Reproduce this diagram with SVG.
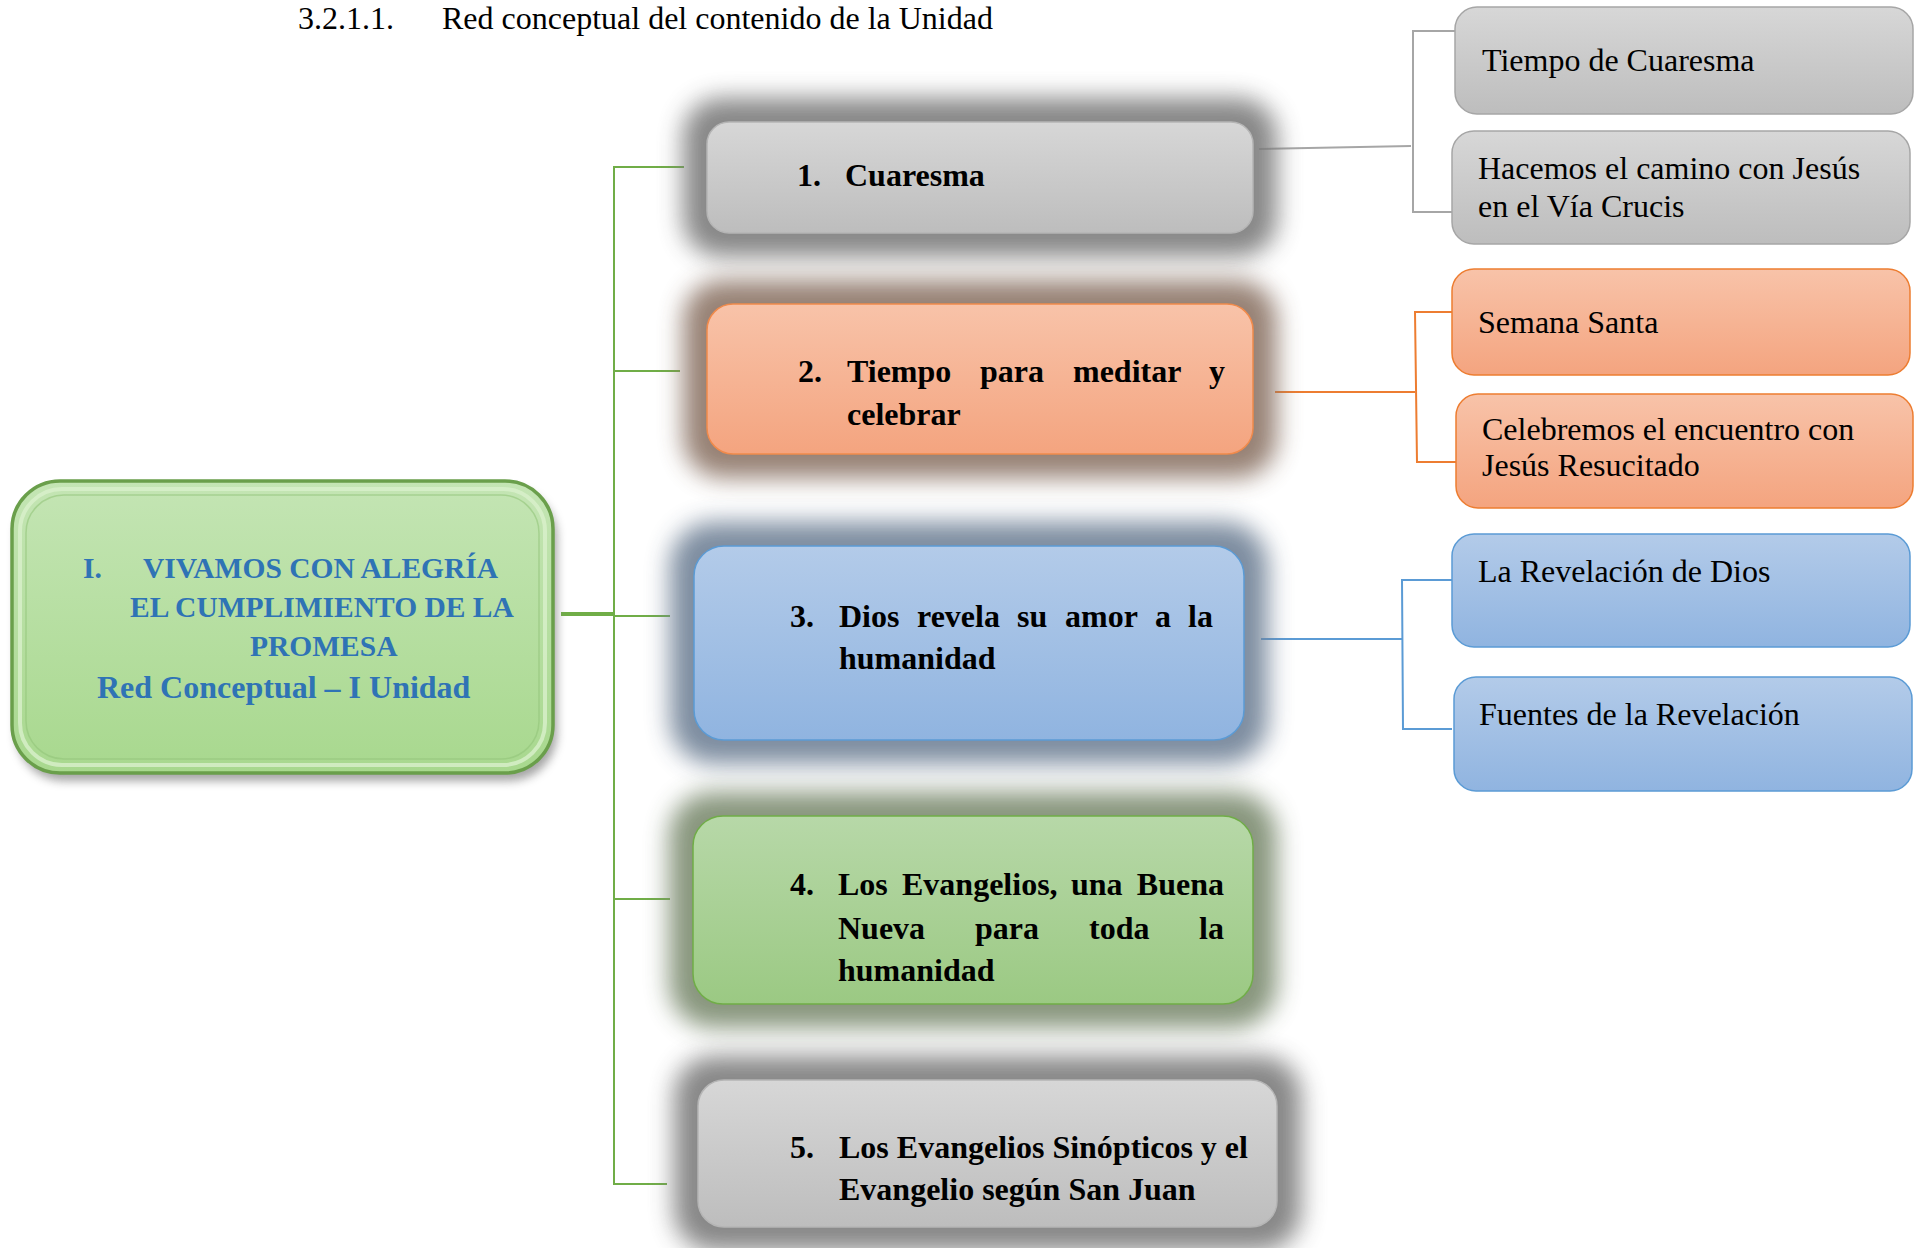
<svg xmlns="http://www.w3.org/2000/svg" width="1920" height="1248" viewBox="0 0 1920 1248">
<defs>
<linearGradient id="gGray" x1="0" y1="0" x2="0" y2="1"><stop offset="0" stop-color="#d7d7d7"/><stop offset="1" stop-color="#bdbdbd"/></linearGradient>
<linearGradient id="gOrange" x1="0" y1="0" x2="0" y2="1"><stop offset="0" stop-color="#f8c3a9"/><stop offset="1" stop-color="#f4a47f"/></linearGradient>
<linearGradient id="gBlue" x1="0" y1="0" x2="0" y2="1"><stop offset="0" stop-color="#b3cbe9"/><stop offset="1" stop-color="#90b4e0"/></linearGradient>
<linearGradient id="gGreen" x1="0" y1="0" x2="0" y2="1"><stop offset="0" stop-color="#b7d8a8"/><stop offset="1" stop-color="#9bc983"/></linearGradient>
<linearGradient id="gMain" x1="0" y1="0" x2="0" y2="1"><stop offset="0" stop-color="#c4e5b4"/><stop offset="1" stop-color="#a8d88e"/></linearGradient>
<filter id="glow" x="-0.3" y="-0.6" width="1.6" height="2.2"><feGaussianBlur stdDeviation="12"/></filter>
<filter id="shadow" x="-0.1" y="-0.1" width="1.2" height="1.3"><feGaussianBlur stdDeviation="5"/></filter>
</defs>
<style>
.t{font-family:"Liberation Serif","Times New Roman",serif}
.b{font-weight:bold;font-size:32px;fill:#000}
.r{font-size:32px;fill:#000}
.m{font-weight:bold;fill:#2f73b5}
.ln{fill:none;stroke-width:2}
.gn{stroke:#70ad47}
.gy{stroke:#a6a6a6}
.or{stroke:#ed7d31}
.bl{stroke:#5b9bd5}
.glow{filter:url(#glow);opacity:0.9}
</style>

<text class="t" x="298" y="29" font-size="32">3.2.1.1.</text>
<text class="t" x="442" y="29" font-size="32">Red conceptual del contenido de la Unidad</text>

<g id="connectors">
<line class="gn" x1="561" y1="614" x2="615" y2="614" style="stroke-width:4"/>
<line class="ln gn" x1="614" y1="166" x2="614" y2="1185"/>
<line class="ln gn" x1="614" y1="167" x2="684" y2="167"/>
<line class="ln gn" x1="614" y1="371" x2="680" y2="371"/>
<line class="ln gn" x1="614" y1="616" x2="670" y2="616"/>
<line class="ln gn" x1="614" y1="899" x2="670" y2="899"/>
<line class="ln gn" x1="614" y1="1184" x2="667" y2="1184"/>
<polyline class="ln gy" points="1259,149 1411,146"/>
<polyline class="ln gy" points="1456,31 1413,31 1413,212 1452,212"/>
<polyline class="ln or" points="1275,392 1415,392"/>
<polyline class="ln or" points="1452,312 1415,312 1417,462 1456,462"/>
<polyline class="ln bl" points="1261,639 1402,639"/>
<polyline class="ln bl" points="1452,580 1402,580 1403,729 1452,729"/>
</g>

<g id="main">
<rect x="16" y="489" width="541" height="292" rx="48" fill="#7f7f7f" filter="url(#shadow)" opacity="0.7"/>
<rect x="12" y="481" width="541" height="292" rx="48" fill="url(#gMain)" stroke="#6a9f4b" stroke-width="3.5"/>
<rect x="20" y="489" width="525" height="276" rx="42" fill="none" stroke="#d9f0cc" stroke-width="4" opacity="0.8"/>
<rect x="26" y="495" width="513" height="264" rx="38" fill="none" stroke="#93c479" stroke-width="1.5" opacity="0.6"/>
<text class="t m" font-size="29.5" x="83" y="578">I.</text>
<text class="t m" font-size="29.5" x="143" y="578">VIVAMOS CON ALEGRÍA</text>
<text class="t m" font-size="29.5" x="130" y="617">EL CUMPLIMIENTO DE LA</text>
<text class="t m" font-size="29.5" x="250" y="656">PROMESA</text>
<text class="t m" font-size="32" x="97" y="698">Red Conceptual – I Unidad</text>
</g>

<g id="n1">
<rect class="glow" x="683" y="98" width="594" height="159" rx="38" fill="#7a7a7a"/>
<rect x="707" y="122" width="546" height="111" rx="22" fill="url(#gGray)" stroke="#b5b5b5" stroke-width="1.5"/>
<text class="t b" x="797" y="186">1.</text>
<text class="t b" x="845" y="186">Cuaresma</text>
</g>

<g id="n2">
<rect class="glow" x="683" y="280" width="594" height="198" rx="40" fill="#8c7466"/>
<rect x="707" y="304" width="546" height="150" rx="26" fill="url(#gOrange)" stroke="#f08a4b" stroke-width="1.5"/>
<text class="t b" x="798" y="382">2.</text>
<text class="t b" x="847" y="382">Tiempo</text>
<text class="t b" x="980" y="382">para</text>
<text class="t b" x="1073" y="382">meditar</text>
<text class="t b" x="1225" y="382" text-anchor="end">y</text>
<text class="t b" x="847" y="425">celebrar</text>
</g>

<g id="n3">
<rect class="glow" x="670" y="522" width="598" height="242" rx="44" fill="#6f8196"/>
<rect x="694" y="546" width="550" height="194" rx="30" fill="url(#gBlue)" stroke="#5b9bd5" stroke-width="1.5"/>
<text class="t b" x="790" y="627">3.</text>
<text class="t b" x="839" y="627">Dios</text>
<text class="t b" x="917" y="627">revela</text>
<text class="t b" x="1017" y="627">su</text>
<text class="t b" x="1065" y="627">amor</text>
<text class="t b" x="1155" y="627">a</text>
<text class="t b" x="1213" y="627" text-anchor="end">la</text>
<text class="t b" x="839" y="669">humanidad</text>
</g>

<g id="n4">
<rect class="glow" x="669" y="792" width="608" height="236" rx="44" fill="#7b8b70"/>
<rect x="693" y="816" width="560" height="188" rx="30" fill="url(#gGreen)" stroke="#70ad47" stroke-width="1.5"/>
<text class="t b" x="790" y="895">4.</text>
<text class="t b" x="838" y="895">Los</text>
<text class="t b" x="902" y="895">Evangelios,</text>
<text class="t b" x="1071" y="895">una</text>
<text class="t b" x="1224" y="895" text-anchor="end">Buena</text>
<text class="t b" x="838" y="939">Nueva</text>
<text class="t b" x="975" y="939">para</text>
<text class="t b" x="1089" y="939">toda</text>
<text class="t b" x="1224" y="939" text-anchor="end">la</text>
<text class="t b" x="838" y="981">humanidad</text>
</g>

<g id="n5">
<rect class="glow" x="674" y="1056" width="627" height="195" rx="40" fill="#7a7a7a"/>
<rect x="698" y="1080" width="579" height="147" rx="26" fill="url(#gGray)" stroke="#b5b5b5" stroke-width="1.5"/>
<text class="t b" x="790" y="1158">5.</text>
<text class="t b" x="839" y="1158">Los Evangelios Sinópticos y el</text>
<text class="t b" x="839" y="1200">Evangelio según San Juan</text>
</g>

<g id="s1a">
<rect x="1455" y="7" width="458" height="107" rx="22" fill="url(#gGray)" stroke="#a6a6a6" stroke-width="1.5"/>
<text class="t r" x="1482" y="71">Tiempo de Cuaresma</text>
</g>
<g id="s1b">
<rect x="1452" y="131" width="458" height="113" rx="22" fill="url(#gGray)" stroke="#a6a6a6" stroke-width="1.5"/>
<text class="t r" x="1478" y="179">Hacemos el camino con Jesús</text>
<text class="t r" x="1478" y="217">en el Vía Crucis</text>
</g>
<g id="s2a">
<rect x="1452" y="269" width="458" height="106" rx="22" fill="url(#gOrange)" stroke="#ed7d31" stroke-width="1.5"/>
<text class="t r" x="1478" y="333">Semana Santa</text>
</g>
<g id="s2b">
<rect x="1456" y="394" width="457" height="114" rx="22" fill="url(#gOrange)" stroke="#ed7d31" stroke-width="1.5"/>
<text class="t r" x="1482" y="440">Celebremos el encuentro con</text>
<text class="t r" x="1482" y="476">Jesús Resucitado</text>
</g>
<g id="s3a">
<rect x="1452" y="534" width="458" height="113" rx="22" fill="url(#gBlue)" stroke="#5b9bd5" stroke-width="1.5"/>
<text class="t r" x="1478" y="582">La Revelación de Dios</text>
</g>
<g id="s3b">
<rect x="1454" y="677" width="458" height="114" rx="22" fill="url(#gBlue)" stroke="#5b9bd5" stroke-width="1.5"/>
<text class="t r" x="1479" y="725">Fuentes de la Revelación</text>
</g>
</svg>
